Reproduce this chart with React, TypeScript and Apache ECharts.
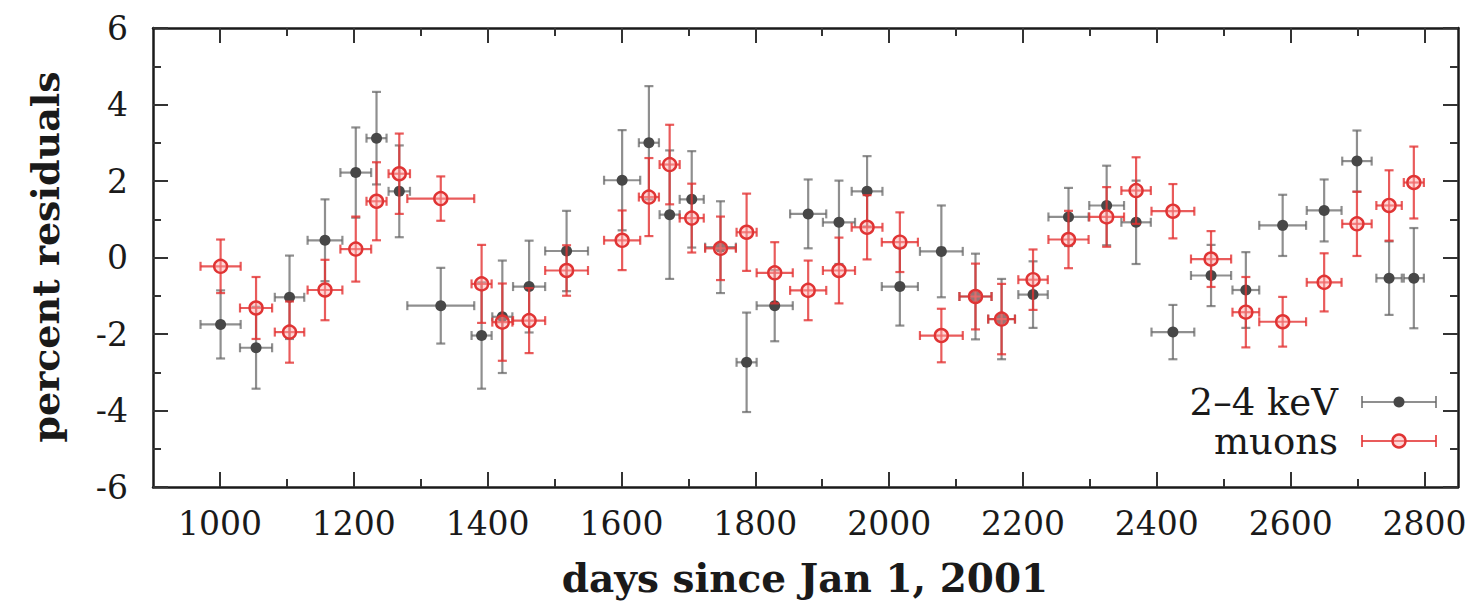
import React, { useEffect, useRef } from "react";
import * as echarts from "echarts";

// bin centres (days since Jan 1, 2001) and horizontal half-widths (days)
const binDays = [1001, 1054, 1104, 1157, 1203, 1234, 1268, 1330, 1391, 1422, 1462, 1518, 1601, 1641, 1672, 1705, 1748, 1787, 1829, 1879, 1925, 1967, 2016, 2078, 2129, 2168, 2215, 2268, 2325, 2369, 2424, 2481, 2533, 2588, 2650, 2699, 2747, 2784];
const binHalfWidth = [30, 24, 22, 26, 23, 15, 16, 50, 15, 15, 24, 32, 27, 15, 15, 18, 23, 15, 27, 27, 24, 23, 27, 32, 24, 20, 22, 30, 26, 22, 32, 30, 20, 35, 26, 22, 19, 15];

// 2–4 keV residuals (%) and errors
const keVValues = [-1.75, -2.36, -1.04, 0.45, 2.22, 3.12, 1.73, -1.26, -2.04, -1.55, -0.76, 0.17, 2.02, 3.0, 1.12, 1.52, 0.27, -2.74, -1.26, 1.14, 0.92, 1.73, -0.76, 0.16, -1.02, -1.61, -0.97, 1.06, 1.36, 0.92, -1.95, -0.47, -0.85, 0.84, 1.23, 2.52, -0.54, -0.54];
const keVErrors = [0.89, 1.07, 1.09, 1.07, 1.18, 1.21, 1.2, 0.99, 1.39, 1.47, 1.2, 1.05, 1.31, 1.48, 1.68, 1.26, 1.2, 1.3, 0.93, 0.9, 1.09, 0.92, 1.02, 1.2, 1.12, 1.05, 0.87, 0.76, 1.04, 1.09, 0.71, 0.8, 0.99, 0.8, 0.81, 0.8, 0.96, 1.31];

// muon residuals (%) and errors
const muonValues = [-0.23, -1.32, -1.95, -0.85, 0.22, 1.47, 2.19, 1.54, -0.69, -1.69, -1.65, -0.34, 0.45, 1.58, 2.43, 1.03, 0.24, 0.66, -0.4, -0.86, -0.34, 0.79, 0.4, -2.04, -1.02, -1.61, -0.58, 0.47, 1.06, 1.75, 1.21, -0.04, -1.43, -1.68, -0.65, 0.88, 1.36, 1.96];
const muonErrors = [0.7, 0.81, 0.8, 0.79, 0.85, 1.02, 1.05, 0.58, 1.02, 1.01, 0.85, 0.66, 0.78, 1.02, 1.04, 0.9, 0.83, 1.01, 0.8, 0.78, 0.86, 0.84, 0.78, 0.7, 0.86, 0.92, 0.79, 0.75, 0.78, 0.87, 0.71, 0.73, 0.92, 0.65, 0.76, 0.84, 0.92, 0.94];

// axis ticks
const xMajorTicks = [1000, 1200, 1400, 1600, 1800, 2000, 2200, 2400, 2600, 2800];
const xMinorTicks = [1100, 1300, 1500, 1700, 1900, 2100, 2300, 2500, 2700];

const FONT = "'DejaVu Serif', 'Liberation Serif', serif";
const GRAY = "#474747";
const GRAY_BAR = "rgba(100,100,100,0.72)";
const RED = "#e03434";
const RED_BAR = "rgba(228,50,50,0.8)";
const RED_FILL = "rgba(255,170,170,0.45)";

function makeData(values: number[], errors: number[]) {
  return binDays.map((d, i) => [d, values[i], binHalfWidth[i], errors[i]]);
}

function errRenderer(kind: "gray" | "red") {
  return (params: any, api: any) => {
    const x = api.value(0);
    const y = api.value(1);
    const ex = api.value(2);
    const ey = api.value(3);
    const c = api.coord([x, y]);
    const l = api.coord([x - ex, y]);
    const r = api.coord([x + ex, y]);
    const t = api.coord([x, y + ey]);
    const b = api.coord([x, y - ey]);
    const cap = 4.5;
    const stroke = kind === "gray" ? GRAY_BAR : RED_BAR;
    const ls = { stroke, lineWidth: 2.2 };
    const children: any[] = [
      { type: "line", shape: { x1: l[0], y1: l[1], x2: r[0], y2: r[1] }, style: ls },
      { type: "line", shape: { x1: t[0], y1: t[1], x2: b[0], y2: b[1] }, style: ls },
      { type: "line", shape: { x1: l[0], y1: l[1] - cap, x2: l[0], y2: l[1] + cap }, style: ls },
      { type: "line", shape: { x1: r[0], y1: r[1] - cap, x2: r[0], y2: r[1] + cap }, style: ls },
      { type: "line", shape: { x1: t[0] - cap, y1: t[1], x2: t[0] + cap, y2: t[1] }, style: ls },
      { type: "line", shape: { x1: b[0] - cap, y1: b[1], x2: b[0] + cap, y2: b[1] }, style: ls },
    ];
    if (kind === "gray") {
      children.push({ type: "circle", shape: { cx: c[0], cy: c[1], r: 5.5 }, style: { fill: GRAY } });
    } else {
      children.push({
        type: "circle",
        shape: { cx: c[0], cy: c[1], r: 6.5 },
        style: { fill: RED_FILL, stroke: RED, lineWidth: 2.4 },
      });
    }
    return { type: "group", children };
  };
}

function legendItem(y: number, label: string, kind: "gray" | "red") {
  const stroke = kind === "gray" ? GRAY_BAR : RED_BAR;
  const x1 = 1362;
  const x2 = 1436;
  const xm = 1399;
  const ls = { stroke, lineWidth: 2 };
  const els: any[] = [
    {
      type: "text",
      x: 1338,
      y,
      style: { text: label, font: `37px ${FONT}`, fill: "#1a1a1a", align: "right", verticalAlign: "middle" },
    },
    { type: "line", shape: { x1, y1: y, x2, y2: y }, style: ls },
    { type: "line", shape: { x1, y1: y - 6, x2: x1, y2: y + 6 }, style: ls },
    { type: "line", shape: { x1: x2, y1: y - 6, x2, y2: y + 6 }, style: ls },
  ];
  if (kind === "gray") {
    els.push({ type: "circle", shape: { cx: xm, cy: y, r: 5.5 }, style: { fill: GRAY } });
  } else {
    els.push({ type: "circle", shape: { cx: xm, cy: y, r: 6.5 }, style: { fill: RED_FILL, stroke: RED, lineWidth: 2.4 } });
  }
  return els;
}

export default function App() {
  const ref = useRef<HTMLDivElement>(null);
  useEffect(() => {
    if (!ref.current) return;
    const chart = echarts.init(ref.current, undefined, { renderer: "svg" });
    const axisLine = { show: true, onZero: false, lineStyle: { color: "#1a1a1a", width: 2.5 } };
    const noLine = { show: false, onZero: false };
    const tickStyle = { color: "#333", width: 2 };
    const xBase = { type: "value", min: 900, max: 2850, splitLine: { show: false } };
    const option: any = {
      animation: false,
      backgroundColor: "#ffffff",
      grid: { left: 153, right: 16, top: 28, bottom: 119, containLabel: false },
      xAxis: [
        {
          ...xBase,
          position: "bottom",
          axisLine,
          axisTick: { show: true, inside: true, length: 15, lineStyle: tickStyle, customValues: xMajorTicks },
          axisLabel: {
            show: true,
            customValues: xMajorTicks,
            margin: 20,
            fontFamily: FONT,
            fontSize: 33,
            color: "#1a1a1a",
            formatter: (v: number) => String(v),
          },
        },
        {
          ...xBase,
          position: "bottom",
          axisLine: noLine,
          axisTick: { show: true, inside: true, length: 8, lineStyle: tickStyle, customValues: xMinorTicks },
          axisLabel: { show: false, customValues: xMinorTicks },
        },
        {
          ...xBase,
          position: "top",
          axisLine,
          axisTick: { show: true, inside: true, length: 15, lineStyle: tickStyle, customValues: xMajorTicks },
          axisLabel: { show: false, customValues: xMajorTicks },
        },
        {
          ...xBase,
          position: "top",
          axisLine: noLine,
          axisTick: { show: true, inside: true, length: 8, lineStyle: tickStyle, customValues: xMinorTicks },
          axisLabel: { show: false, customValues: xMinorTicks },
        },
      ],
      yAxis: [
        {
          type: "value",
          position: "left",
          min: -6,
          max: 6,
          interval: 2,
          splitLine: { show: false },
          axisLine,
          axisTick: { show: true, inside: true, length: 15, lineStyle: tickStyle },
          minorTick: { show: true, splitNumber: 2, length: 8, lineStyle: tickStyle },
          axisLabel: { margin: 25, fontFamily: FONT, fontSize: 33, color: "#1a1a1a" },
        },
        {
          type: "value",
          position: "right",
          min: -6,
          max: 6,
          interval: 2,
          splitLine: { show: false },
          axisLine,
          axisTick: { show: true, inside: true, length: 15, lineStyle: tickStyle },
          minorTick: { show: true, splitNumber: 2, length: 8, lineStyle: tickStyle },
          axisLabel: { show: false },
        },
      ],
      series: [
        {
          type: "custom",
          name: "2–4 keV",
          xAxisIndex: 0,
          yAxisIndex: 0,
          renderItem: errRenderer("gray"),
          encode: { x: 0, y: 1 },
          data: makeData(keVValues, keVErrors),
          z: 2,
        },
        {
          type: "custom",
          name: "muons",
          xAxisIndex: 0,
          yAxisIndex: 0,
          renderItem: errRenderer("red"),
          encode: { x: 0, y: 1 },
          data: makeData(muonValues, muonErrors),
          z: 3,
        },
      ],
      graphic: [
        {
          type: "text",
          x: 45,
          y: 257,
          rotation: Math.PI / 2,
          style: { text: "percent residuals", font: `bold 38px ${FONT}`, fill: "#1a1a1a", align: "center", verticalAlign: "middle" },
        },
        {
          type: "text",
          x: 805,
          y: 578,
          style: { text: "days since Jan 1, 2001", font: `bold 39px ${FONT}`, fill: "#1a1a1a", align: "center", verticalAlign: "middle" },
        },
        ...legendItem(402, "2–4 keV", "gray"),
        ...legendItem(441, "muons", "red"),
      ],
    };
    chart.setOption(option);
    return () => chart.dispose();
  }, []);
  return <div ref={ref} style={{ width: 1474, height: 606, position: "absolute", left: 0, top: 0 }} />;
}
